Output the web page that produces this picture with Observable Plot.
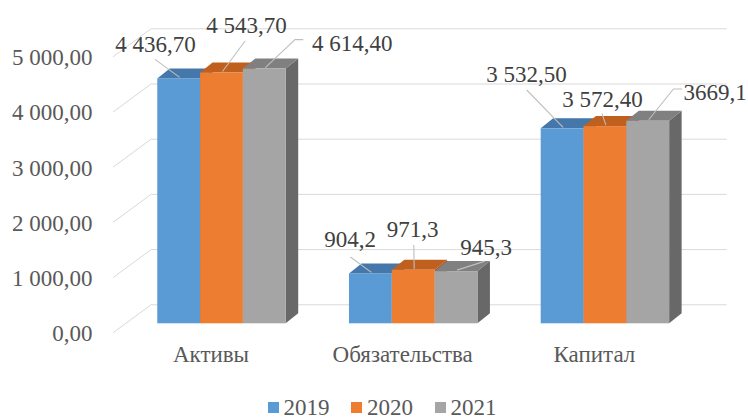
<!DOCTYPE html>
<html>
<head>
<meta charset="utf-8">
<script src="https://cdn.jsdelivr.net/npm/d3@7"></script>
<script src="https://cdn.jsdelivr.net/npm/@observablehq/plot@0.6"></script>
<style>
  html, body { margin: 0; padding: 0; background: #ffffff; overflow: hidden; }
  #chart { width: 748px; height: 419px; position: relative; font-family: 'Liberation Serif', 'Times New Roman', Tinos, 'DejaVu Serif', serif; }
  #legend { height: 23px; margin-top: -2px; display: flex; align-items: flex-start; margin-left: 267.5px; font-size: 23px; line-height: 23px; color: #595959; }
  .item { display: flex; align-items: flex-start; margin-right: 21.5px; }
  .sw { width: 11px; height: 11px; margin-top: 6px; margin-right: 5px; }
  svg text { font-family: 'Liberation Serif', 'Times New Roman', Tinos, 'DejaVu Serif', serif; }
</style>
</head>
<body>
<div id="chart"></div>
<script>
// ---- data ----
const categories = ["Активы", "Обязательства", "Капитал"];
const years = ["2019", "2020", "2021"];
const values2019 = [4436.7, 904.2, 3532.5];
const values2020 = [4543.7, 971.3, 3572.4];
const values2021 = [4614.4, 945.3, 3669.1];
const labels2019 = ["4 436,70", "904,2", "3 532,50"];
const labels2020 = ["4 543,70", "971,3", "3 572,40"];
const labels2021 = ["4 614,40", "945,3", "3669,1"];
const yTicks = [0, 1000, 2000, 3000, 4000, 5000];
const yTickLabels = ["0,00", "1 000,00", "2 000,00", "3 000,00", "4 000,00", "5 000,00"];

// ---- styles / layout ----
const frontColors = ["#5B9BD5", "#ED7D31", "#A5A5A5"];
const topColors = ["#4677AA", "#BF601F", "#808080"];
const sideColors = ["#3E6A99", "#A8541B", "#686868"];
const FONT = "'Liberation Serif', 'Times New Roman', Tinos, 'DejaVu Serif', serif";
const W = 748, H = 398, mL = 94, mR = 15.6, mT = 47.3, mB = 74.7, PAD = 0.33;
const DX3 = 12.5, DY3 = -10;          // 3D depth of bars
const WALL_DY = -19, FLOOR_DY = 9.5;  // back wall / floor front offsets
// label placement (offsets from the front-top centre of each bar): [year][category]
const labelLayout = [
  [{tx: -23.7, ty: -34.3, lx: -23.7, ly: -19}, {tx: -20.7, ty: -34, lx: -20, ly: -16.4}, {tx: -36, ty: -54.3, lx: -35.4, ly: -38.3}],
  [{tx: 24.6, ty: -47, lx: 23.6, ly: -31.5}, {tx: -1, ty: -40.7, lx: 0.6, ly: -24.7}, {tx: -3, ty: -27, lx: -3, ly: -12.8}],
  [{tx: 87.4, ty: -25.6, lx: 30.7, ly: -29, hook: 8.3}, {tx: 29.5, ty: -24.4, lx: 29, ly: -10}, {tx: 67, ty: -29, lx: 25.7, ly: -31.8, hook: 8.7}]
];

const series = [values2019, values2020, values2021];
const seriesLabels = [labels2019, labels2020, labels2021];
const data = categories.flatMap((c, ci) => years.map((yr, yi) => ({
  cat: c, year: yr, ci, yi, value: series[yi][ci], label: seriesLabels[yi][ci]
})));

const step = (W - mL - mR) / (categories.length - PAD + 2 * PAD);
const bw = step * (1 - PAD);
const sub = bw / years.length;

function bandW(x) { return x.bandwidth ? x.bandwidth() : bw; }

// back faces: floor diagonals + bar tops and sides
const depthMark = (index, scales) => {
  const x = scales.x, y = scales.y;
  const s = bandW(x) / years.length;
  const g = d3.create("svg:g");
  for (const v of yTicks) {
    g.append("line")
      .attr("x1", mL + 19).attr("y1", y(v) + FLOOR_DY)
      .attr("x2", mL + 57.7).attr("y2", y(v) + WALL_DY)
      .attr("stroke", "#d9d9d9").attr("stroke-width", 1);
  }
  const y0 = y(0);
  for (const d of data) {
    const x0 = x(d.cat) + d.yi * s, x1 = x0 + s, yt = y(d.value);
    g.append("polygon")
      .attr("points", [[x1, yt], [x1 + DX3, yt + DY3], [x1 + DX3, y0 + DY3], [x1, y0]].join(" "))
      .attr("fill", sideColors[d.yi]);
    g.append("polygon")
      .attr("points", [[x0, yt], [x1, yt], [x1 + DX3, yt + DY3], [x0 + DX3, yt + DY3]].join(" "))
      .attr("fill", topColors[d.yi]);
  }
  return g.node();
};

// leader lines from labels to bars
const leaderMark = (index, scales) => {
  const x = scales.x, y = scales.y;
  const s = bandW(x) / years.length;
  const g = d3.create("svg:g").attr("stroke", "#bfbfbf").attr("stroke-width", 1.1).attr("fill", "none");
  for (const d of data) {
    const L = labelLayout[d.yi][d.ci];
    const cx = x(d.cat) + (d.yi + 0.5) * s, cy = y(d.value);
    const pts = [];
    if (L.hook) pts.push([cx + L.lx + L.hook, cy + L.ly]);
    pts.push([cx + L.lx, cy + L.ly]);
    pts.push([cx + 1, cy - 1]);
    g.append("polyline").attr("points", pts.join(" "));
  }
  return g.node();
};

const plot = Plot.plot({
  width: W, height: H,
  marginLeft: mL, marginRight: mR, marginTop: mT, marginBottom: mB,
  style: {fontFamily: FONT, fontSize: "23px", background: "white", overflow: "visible"},
  x: {domain: categories, padding: PAD, axis: null, round: false},
  y: {domain: [0, 5000], axis: null},
  marks: [
    Plot.ruleY(yTicks, {y: d => d, stroke: "#d9d9d9", strokeWidth: 1, dy: WALL_DY, insetLeft: 57.7, insetRight: 5.7}),
    depthMark,
    ...years.map((yr, yi) => Plot.barY(data.filter(d => d.yi === yi), {
      x: "cat", y: "value", fill: frontColors[yi],
      insetLeft: yi * sub, insetRight: (years.length - 1 - yi) * sub
    })),
    leaderMark,
    Plot.text(yTicks, {
      y: d => d, text: (d, i) => yTickLabels[i], frameAnchor: "left", textAnchor: "end",
      dx: -2, dy: 10, fill: "#595959", fontSize: 23
    }),
    Plot.text(categories, {
      x: d => d, text: d => d, frameAnchor: "bottom", dy: 38, dx: -11,
      fill: "#595959", fontSize: 23
    }),
    ...data.map(d => Plot.text([d], {
      x: "cat", y: "value", text: "label",
      dx: (d.yi + 0.5) * sub - bw / 2 + labelLayout[d.yi][d.ci].tx,
      dy: labelLayout[d.yi][d.ci].ty,
      fill: "#404040", fontSize: 23
    }))
  ]
});

const chart = document.getElementById("chart");
chart.appendChild(plot);
const legend = document.createElement("div");
legend.id = "legend";
years.forEach((yr, yi) => {
  const item = document.createElement("div");
  item.className = "item";
  const sw = document.createElement("span");
  sw.className = "sw";
  sw.style.background = frontColors[yi];
  const t = document.createElement("span");
  t.textContent = yr;
  item.appendChild(sw); item.appendChild(t);
  legend.appendChild(item);
});
chart.appendChild(legend);
</script>
</body>
</html>
